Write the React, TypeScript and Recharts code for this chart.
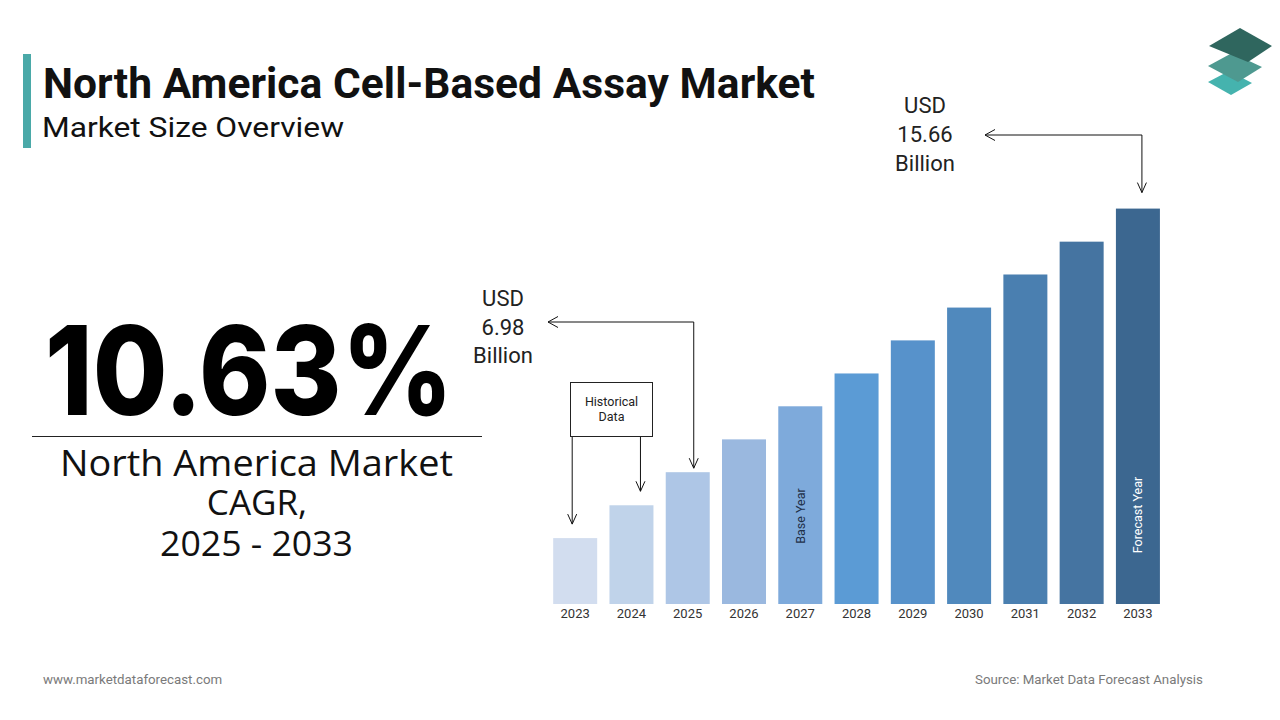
import React from 'react';
import { BarChart, Bar, XAxis, YAxis, Cell } from 'recharts';

// market size by year (USD billion)
const years = ['2023', '2024', '2025', '2026', '2027', '2028', '2029', '2030', '2031', '2032', '2033'];
const marketSize = [2.61, 3.91, 5.22, 6.52, 7.83, 9.13, 10.44, 11.74, 13.05, 14.35, 15.66];
const barColors = [
  '#d2ddef', '#c0d3ea', '#aec6e6', '#9ab8df', '#7eaadb', '#5b9bd5',
  '#5792cb', '#5089bd', '#4a7fb0', '#4574a1', '#3c6790',
];
const historicalYears = ['2023', '2024'];
const baseYear = '2027';
const forecastYear = '2033';
const startLabel = ['USD', '6.98', 'Billion'];
const endLabel = ['USD', '15.66', 'Billion'];

const data = years.map((year, i) => ({ year, value: marketSize[i] }));

const FONT = 'Roboto, "Noto Sans", sans-serif';
const GEO = '"Open Sans", "Noto Sans", sans-serif';

const downHead = (x: number, y: number) => `M${x - 4.5} ${y - 10} L${x} ${y} L${x + 4.5} ${y - 10}`;
const leftHead = (x: number, y: number) => `M${x + 10} ${y - 5.5} L${x} ${y} L${x + 10} ${y + 5.5}`;

const BarWithNotes = (props: any) => {
  const { x, y, width, height, index } = props;
  const year = years[index];
  const bottom = y + height;
  const cx = x + width / 2;
  const line = { stroke: '#111', strokeWidth: 1, fill: 'none' };

  return (
    <g>
      <rect x={x} y={y} width={width} height={height} fill={barColors[index]} />
      {year === baseYear && (
        <text
          x={cx}
          y={bottom - 88}
          transform={`rotate(-90 ${cx} ${bottom - 88})`}
          textAnchor="middle"
          dominantBaseline="central"
          fontSize={12.5}
          fontFamily={FONT}
          fill="#1e3048"
        >
          Base Year
        </text>
      )}
      {year === forecastYear && (
        <>
          <text
            x={cx}
            y={bottom - 89}
            transform={`rotate(-90 ${cx} ${bottom - 89})`}
            textAnchor="middle"
            dominantBaseline="central"
            fontSize={12.5}
            fontFamily={FONT}
            fill="#ffffff"
          >
            Forecast Year
          </text>
          <path d={`M985 135 H${cx + 4} V${y - 16}`} {...line} />
          <path d={downHead(cx + 4, y - 16)} {...line} />
          <path d={leftHead(985, 135)} {...line} />
        </>
      )}
      {year === '2025' && (
        <>
          <path d={`M548 322 H${cx + 6} V${y - 4}`} {...line} />
          <path d={downHead(cx + 6, y - 4)} {...line} />
          <path d={leftHead(548, 322)} {...line} />
        </>
      )}
      {historicalYears.includes(year) && (
        <>
          <path d={`M${index === 0 ? x + 19 : x + 31} 436 V${y - 14}`} {...line} />
          <path d={downHead(index === 0 ? x + 19 : x + 31, y - 14)} {...line} />
        </>
      )}
    </g>
  );
};

export default function App() {
  return (
    <div style={{ position: 'absolute', left: 0, top: 0, width: 1280, height: 720, background: '#fff', overflow: 'hidden' }}>
      <BarChart
        width={1280}
        height={720}
        data={data}
        margin={{ top: 200, right: 114, bottom: 86, left: 547 }}
        barCategoryGap="11%"
      >
        <XAxis
          dataKey="year"
          axisLine={false}
          tickLine={false}
          tickSize={5}
          tickMargin={0}
          interval={0}
          height={30}
          tick={{ fontSize: 13, fill: '#333', fontFamily: FONT }}
        />
        <YAxis hide domain={[0, 16]} />
        <Bar dataKey="value" isAnimationActive={false} shape={BarWithNotes}>
          {data.map((d, i) => (
            <Cell key={d.year} fill={barColors[i]} />
          ))}
        </Bar>
      </BarChart>

      <svg width={1280} height={720} style={{ position: 'absolute', left: 0, top: 0, pointerEvents: 'none' }}>
        <rect x={23} y={54} width={8} height={94} fill="#4aa9a8" />
        <text x={43} y={98} fontSize={42.5} fontWeight={700} fontFamily={FONT} fill="#111" textLength={772} lengthAdjust="spacing">
          North America Cell-Based Assay Market
        </text>
        <text x={42} y={137} fontSize={28} fontFamily={FONT} fill="#111" textLength={302} lengthAdjust="spacingAndGlyphs">
          Market Size Overview
        </text>

        <polygon points="1208,82 1229,71 1252,83 1231,95" fill="#45b3ae" />
        <polygon points="1208,66 1232,53 1262,67 1238,82" fill="#4e9990" />
        <polygon points="1209,46 1240,28 1272,46 1248,62" fill="#2f665e" />

        <text x={45} y={415} fontSize={124} fontWeight={800} fontFamily='Inter, "Open Sans", sans-serif' fill="#000" textLength={408} lengthAdjust="spacingAndGlyphs">
          10.63%
        </text>
        <line x1={32} y1={436.5} x2={482} y2={436.5} stroke="#222" strokeWidth={1} />
        <text x={60} y={476} fontSize={37} fontFamily={GEO} fill="#111" textLength={393} lengthAdjust="spacingAndGlyphs">
          North America Market
        </text>
        <text x={257} y={515} textAnchor="middle" fontSize={35} fontFamily={GEO} fill="#111">
          CAGR,
        </text>
        <text x={160} y={556} fontSize={35} fontFamily={GEO} fill="#111" textLength={193} lengthAdjust="spacingAndGlyphs">
          2025 - 2033
        </text>

        {startLabel.map((t, i) => (
          <text key={t} x={503} y={306 + i * 28.5} textAnchor="middle" fontSize={22} fontFamily={FONT} fill="#222">
            {t}
          </text>
        ))}
        {endLabel.map((t, i) => (
          <text key={t} x={925} y={113 + i * 29} textAnchor="middle" fontSize={22} fontFamily={FONT} fill="#222">
            {t}
          </text>
        ))}

        <rect x={570.5} y={382.5} width={82} height={54} fill="#fff" stroke="#222" strokeWidth={1} />
        <text x={611.5} y={406} textAnchor="middle" fontSize={12.5} fontFamily={FONT} fill="#222">Historical</text>
        <text x={611.5} y={421} textAnchor="middle" fontSize={12.5} fontFamily={FONT} fill="#222">Data</text>

        <text x={43} y={684} fontSize={13.3} fontFamily={FONT} fill="#7a7a7a">www.marketdataforecast.com</text>
        <text x={975} y={684} fontSize={13.3} fontFamily={FONT} fill="#7a7a7a">Source: Market Data Forecast Analysis</text>
      </svg>
    </div>
  );
}
